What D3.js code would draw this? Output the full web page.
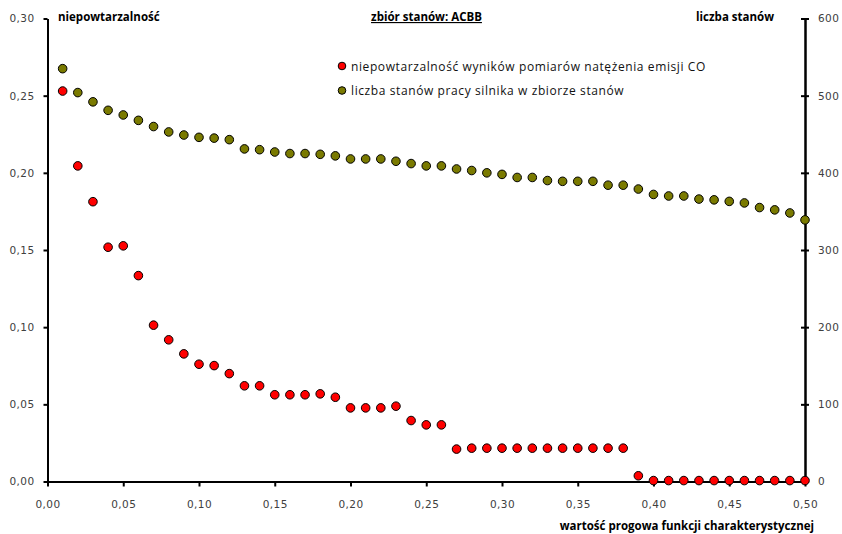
<!DOCTYPE html>
<head>
<meta charset="utf-8">
<style type="text/css">
body { margin: 0; background: #fff; }
.tick text { font-family: "DejaVu Sans", sans-serif; font-size: 10.5px; fill: #404040; letter-spacing: 0.4px; }
.axis path, .axis line { stroke: #000; stroke-width: 2; }
.ttl { font-family: "Open Sans", sans-serif; font-size: 11.5px; font-weight: bold; fill: #000; }
.leg { font-family: "Open Sans", sans-serif; font-size: 12px; fill: #111; letter-spacing: 0.6px; }
</style>
</head>
<body>
<script src="https://cdn.jsdelivr.net/npm/d3@7"></script>
<script type="text/javascript">
  // progi funkcji charakterystycznej
  var thresholds = [0.01, 0.02, 0.03, 0.04, 0.05, 0.06, 0.07, 0.08, 0.09, 0.10,
                    0.11, 0.12, 0.13, 0.14, 0.15, 0.16, 0.17, 0.18, 0.19, 0.20,
                    0.21, 0.22, 0.23, 0.24, 0.25, 0.26, 0.27, 0.28, 0.29, 0.30,
                    0.31, 0.32, 0.33, 0.34, 0.35, 0.36, 0.37, 0.38, 0.39, 0.40,
                    0.41, 0.42, 0.43, 0.44, 0.45, 0.46, 0.47, 0.48, 0.49, 0.50];

  // niepowtarzalnosc (lewa os)
  var uniq = [0.253, 0.2045, 0.1813, 0.1518, 0.1527, 0.1334, 0.1013, 0.0918, 0.0827, 0.0760,
              0.0751, 0.0699, 0.0620, 0.0620, 0.0562, 0.0562, 0.0562, 0.0568, 0.0546, 0.0477,
              0.0477, 0.0477, 0.0488, 0.0395, 0.0367, 0.0367, 0.0210, 0.0216, 0.0216, 0.0216,
              0.0216, 0.0216, 0.0216, 0.0216, 0.0216, 0.0216, 0.0216, 0.0216, 0.0037, 0.0006,
              0.0006, 0.0006, 0.0006, 0.0006, 0.0006, 0.0006, 0.0006, 0.0006, 0.0006, 0.0006];

  // liczba stanow (prawa os)
  var states = [535, 504, 492, 481, 475, 468, 460, 453, 449, 446,
                445, 443, 431, 430, 427, 425, 425, 424, 422, 418,
                418, 418, 415, 412, 409, 409, 405, 403, 400, 398,
                394, 394, 390, 389, 389, 389, 384, 384, 379, 372,
                370, 370, 366, 365, 363, 361, 355, 352, 348, 339];

  var xTicks = [0, 0.05, 0.10, 0.15, 0.20, 0.25, 0.30, 0.35, 0.40, 0.45, 0.50];
  var yTicks = [0, 0.05, 0.10, 0.15, 0.20, 0.25, 0.30];
  var y2Ticks = [0, 100, 200, 300, 400, 500, 600];

  var svg = d3.select('body').append('svg')
          .attr('width', 842)
          .attr('height', 534);

  var x = d3.scaleLinear().domain([0, 0.5]).range([47.5, 805]);
  var y = d3.scaleLinear().domain([0, 0.3]).range([481.5, 18.5]);
  var y2 = d3.scaleLinear().domain([0, 600]).range([481.5, 18.5]);

  var fmt = function(d){ return d3.format('.2f')(d).replace('.', ','); };

  // osie
  svg.append('g').attr('class', 'axis')
          .attr('transform', 'translate(0,481.5)')
          .call(d3.axisBottom(x).tickValues(xTicks).tickFormat(fmt).tickSize(5).tickSizeOuter(0).tickPadding(14));

  svg.append('g').attr('class', 'axis')
          .attr('transform', 'translate(47.5,0)')
          .call(d3.axisLeft(y).tickValues(yTicks).tickFormat(fmt).tickSize(4).tickSizeOuter(0).tickPadding(9));

  // prawa os - kreski po obu stronach
  svg.append('g').attr('class', 'axis')
          .attr('transform', 'translate(805,0)')
          .call(d3.axisLeft(y2).tickValues(y2Ticks).tickFormat('').tickSize(4).tickSizeOuter(0));
  svg.append('g').attr('class', 'axis')
          .attr('transform', 'translate(805,0)')
          .call(d3.axisRight(y2).tickValues(y2Ticks).tickSize(4).tickSizeOuter(0).tickPadding(9));

  // punkty
  svg.append('g').selectAll('circle')
          .data(uniq)
          .enter().append('circle')
          .attr('cx', function(d, i){ return x(thresholds[i]); })
          .attr('cy', function(d){ return y(d); })
          .attr('r', 4.3)
          .attr('fill', '#ff0000')
          .attr('stroke', '#000')
          .attr('stroke-width', 1);

  svg.append('g').selectAll('circle')
          .data(states)
          .enter().append('circle')
          .attr('cx', function(d, i){ return x(thresholds[i]); })
          .attr('cy', function(d){ return y2(d); })
          .attr('r', 4.3)
          .attr('fill', '#7a7a00')
          .attr('stroke', '#000')
          .attr('stroke-width', 1);

  // tytuly
  svg.append('text').attr('class', 'ttl').attr('x', 58).attr('y', 21).text('niepowtarzalność');
  svg.append('text').attr('class', 'ttl').attr('x', 774).attr('y', 21)
          .attr('text-anchor', 'end').text('liczba stanów');
  svg.append('text').attr('class', 'ttl').attr('x', 426.5).attr('y', 21)
          .attr('text-anchor', 'middle').attr('text-decoration', 'underline')
          .text('zbiór stanów: ACBB');
  svg.append('text').attr('class', 'ttl').attr('x', 814).attr('y', 530)
          .attr('text-anchor', 'end').text('wartość progowa funkcji charakterystycznej');

  // legenda
  var legend = [{name: 'niepowtarzalność wyników pomiarów natężenia emisji CO', color: '#ff0000'},
                {name: 'liczba stanów pracy silnika w zbiorze stanów', color: '#7a7a00'}];
  var lg = svg.append('g').selectAll('g')
          .data(legend)
          .enter().append('g')
          .attr('transform', function(d, i){ return 'translate(342,' + (66 + i * 24.5) + ')'; });
  lg.append('circle').attr('r', 3.8).attr('fill', function(d){ return d.color; })
          .attr('stroke', '#000').attr('stroke-width', 1);
  lg.append('text').attr('class', 'leg').attr('x', 9).attr('y', 4.5).text(function(d){ return d.name; });
</script>
</body>
